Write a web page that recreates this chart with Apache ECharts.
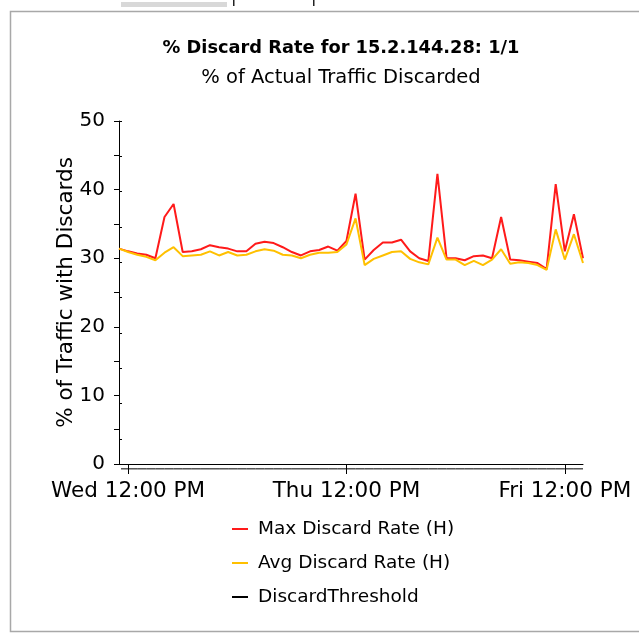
<!DOCTYPE html>
<html>
<head>
<meta charset="utf-8">
<script src="https://cdn.jsdelivr.net/npm/echarts@6/dist/echarts.min.js"></script>
<style>
html,body{margin:0;padding:0;background:#fff;}
#chart{width:639px;height:637px;}
</style>
</head>
<body>
<div id="chart"></div>
<script>
// hours counted from Wed 00:00 (hourly samples)
const hours = [11,12,13,14,15,16,17,18,19,20,21,22,23,24,25,26,27,28,29,30,31,32,33,34,35,36,
  37,38,39,40,41,42,43,44,45,46,47,48,49,50,51,52,53,54,55,56,57,58,59,60,61,62];
const maxDiscard = [31.4,31.0,30.7,30.5,30.0,36.0,37.9,30.9,31.0,31.3,31.9,31.6,31.4,31.0,31.0,32.1,32.4,32.2,31.6,30.9,30.4,31.0,31.2,31.7,31.1,32.5,
  39.4,29.8,31.2,32.3,32.3,32.7,31.0,30.0,29.6,42.3,30.0,30.0,29.7,30.3,30.4,30.0,36.0,29.8,29.7,29.5,29.3,28.4,40.8,31.0,36.4,30.0];
const avgDiscard = [31.4,30.9,30.5,30.2,29.7,30.8,31.6,30.3,30.4,30.5,31.0,30.4,30.9,30.4,30.5,31.0,31.3,31.1,30.5,30.4,30.0,30.5,30.8,30.8,30.9,32.0,
  35.8,29.0,29.9,30.4,30.9,31.0,29.9,29.4,29.1,33.0,29.8,29.8,29.0,29.6,29.0,29.8,31.3,29.2,29.4,29.3,29.0,28.3,34.2,29.8,33.5,29.3];
const thresholdValue = 0.75;
const tickHours = [12, 36, 60];
const tickLabels = ['Wed 12:00 PM', 'Thu 12:00 PM', 'Fri 12:00 PM'];
const yTicks = [5, 10, 15, 20, 25, 30, 35, 40, 45, 50];
const seriesNames = ['Max Discard Rate (H)', 'Avg Discard Rate (H)', 'DiscardThreshold'];

const pair = (vals) => hours.map((h, i) => [h, vals[i]]);
const threshold = hours.map(h => [h, thresholdValue]);

const chart = echarts.init(document.getElementById('chart'), null, {renderer: 'canvas'});
const FONT = 'DejaVu Sans';
// main plot area, and an inner copy shifted 3px right / 5px up that carries the inner half of the crossing ticks
const G0 = {left: 119, right: 56, top: 121, bottom: 173};
const G1 = {left: 122, right: 56, top: 121, bottom: 168};
const xMin0 = 11, xMax = 62, yMax = 50;
const xMin1 = xMin0 + (G1.left - G0.left) * (xMax - xMin0) / (639 - G0.left - G0.right);
const yMin1 = (G0.bottom - G1.bottom) * yMax / (637 - G0.top - G0.bottom);
chart.setOption({
  animation: false,
  backgroundColor: '#ffffff',
  title: {
    text: '% Discard Rate for 15.2.144.28: 1/1',
    subtext: '% of Actual Traffic Discarded',
    left: 341, top: 39, textAlign: 'center', itemGap: 11, padding: 0,
    textStyle: {fontFamily: FONT, fontWeight: 'bold', fontSize: 17.8, color: '#000'},
    subtextStyle: {fontFamily: FONT, fontSize: 19.5, color: '#000'}
  },
  graphic: [
    {type: 'rect', shape: {x: 10.5, y: 11.5, width: 700, height: 620}, style: {fill: 'none', stroke: '#a8a8a8', lineWidth: 1.5}, silent: true},
    {type: 'rect', shape: {x: 121, y: 2, width: 106, height: 5}, style: {fill: '#d8d8d8'}, silent: true},
    {type: 'rect', shape: {x: 233, y: 0, width: 1.5, height: 6}, style: {fill: '#222'}, silent: true},
    {type: 'rect', shape: {x: 313, y: 0, width: 1.5, height: 6}, style: {fill: '#222'}, silent: true}
  ],
  legend: {
    data: seriesNames,
    orient: 'vertical', left: 232, top: 519, padding: 0,
    icon: 'rect', itemWidth: 16, itemHeight: 2, itemGap: 14,
    textStyle: {fontFamily: FONT, fontSize: 18.5, lineHeight: 20, color: '#000', padding: [0,0,0,5]}
  },
  grid: [Object.assign({containLabel: false}, G0), Object.assign({containLabel: false}, G1)],
  xAxis: [{
    gridIndex: 0, type: 'value', min: xMin0, max: xMax,
    axisLine: {lineStyle: {color: '#000', width: 1}},
    axisTick: {customValues: tickHours, length: 5, lineStyle: {color: '#000'}},
    axisLabel: {customValues: tickHours, margin: 16, fontFamily: FONT, fontSize: 21.5, color: '#000',
      formatter: (v) => tickLabels[tickHours.indexOf(v)] || ''},
    splitLine: {show: false}
  }, {
    gridIndex: 1, type: 'value', min: xMin1, max: xMax, position: 'bottom',
    axisLine: {show: false},
    axisTick: {show: true, customValues: tickHours, length: 5, lineStyle: {color: '#000', width: 1}},
    axisLabel: {show: false}, splitLine: {show: false}
  }],
  yAxis: [{
    gridIndex: 0, type: 'value', min: 0, max: yMax, interval: 5,
    name: '% of Traffic with Discards', nameLocation: 'middle', nameGap: 42, nameRotate: 90,
    nameMoveOverlap: false,
    nameTextStyle: {fontFamily: FONT, fontSize: 21.5, color: '#000'},
    axisLine: {show: true, lineStyle: {color: '#000', width: 1}},
    axisTick: {show: true, length: 5, lineStyle: {color: '#000'}},
    axisLabel: {margin: 14, fontFamily: FONT, fontSize: 20, color: '#000',
      formatter: (v) => (v % 10 === 0 ? String(v) : '')},
    splitLine: {show: false}
  }, {
    gridIndex: 1, type: 'value', min: yMin1, max: yMax, position: 'left',
    axisLine: {show: false},
    axisTick: {show: true, customValues: yTicks, length: 3, lineStyle: {color: '#000', width: 1}},
    axisLabel: {show: false}, splitLine: {show: false}
  }],
  series: [
    {name: seriesNames[0], type: 'line', xAxisIndex: 0, yAxisIndex: 0, data: pair(maxDiscard), symbol: 'none', color: '#ff1a1a',
      lineStyle: {width: 2, color: '#ff1a1a'}},
    {name: seriesNames[1], type: 'line', xAxisIndex: 0, yAxisIndex: 0, data: pair(avgDiscard), symbol: 'none', color: '#ffc000',
      lineStyle: {width: 2, color: '#ffc000'}},
    {name: seriesNames[2], type: 'line', xAxisIndex: 1, yAxisIndex: 1, data: threshold, symbol: 'none', color: '#000',
      clip: false, lineStyle: {width: 1, color: '#000'}}
  ]
});
</script>
</body>
</html>
